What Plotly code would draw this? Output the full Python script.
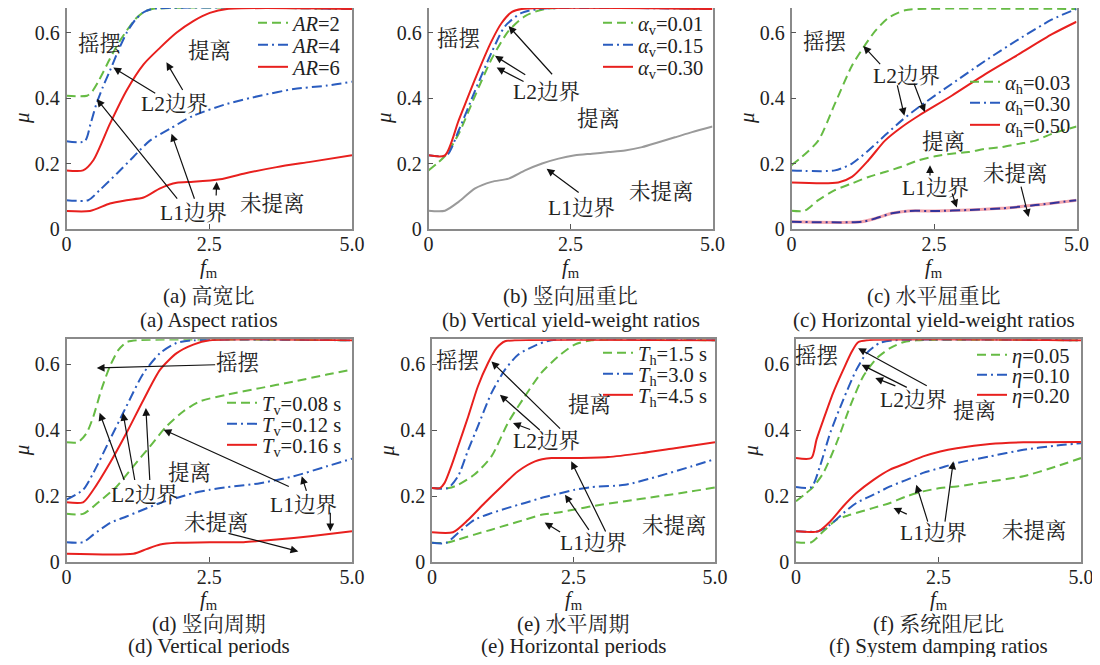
import plotly.graph_objects as go

# The page has an 8 px body margin, so the figure is made 16 px smaller than the
# 1100x665 window and every position below is given in window pixels.
PAGE_W, PAGE_H = 1100, 665
OFF = 8
FW, FH = PAGE_W - 2 * OFF, PAGE_H - 2 * OFF
SERIF = "Liberation Serif, Noto Serif CJK SC, Noto Sans CJK SC, serif"
GREEN = "#66bb44"
BLUE = "#2a5cbf"
RED = "#e8201e"
GRAY = "#9a9a9a"

# ---------------- data ----------------
# (a) aspect ratios
a_ar2_x = [0, 0.36, 0.45, 0.55, 0.64, 0.76, 0.9, 1.05, 1.2, 1.35, 1.5, 5.0]
a_ar2_y = [0.407, 0.407, 0.42, 0.448, 0.478, 0.52, 0.565, 0.605, 0.64, 0.662, 0.672, 0.672]
a_ar4_l2_x = [0, 0.32, 0.42, 0.52, 0.64, 0.76, 0.9, 1.05, 1.2, 1.35, 1.5, 5.0]
a_ar4_l2_y = [0.268, 0.268, 0.32, 0.38, 0.435, 0.483, 0.542, 0.598, 0.638, 0.662, 0.672, 0.672]
a_ar6_l2_x = [0, 0.29, 0.47, 0.76, 1.05, 1.35, 1.64, 1.93, 2.22, 2.51, 2.81, 5.0]
a_ar6_l2_y = [0.179, 0.179, 0.21, 0.321, 0.4225, 0.503, 0.554, 0.60, 0.635, 0.66, 0.672, 0.672]
a_ar4_l1_x = [0, 0.38, 0.58, 0.88, 1.17, 1.46, 1.81, 2.22, 2.81, 3.39, 3.98, 4.56, 5.0]
a_ar4_l1_y = [0.088, 0.088, 0.1185, 0.169, 0.22, 0.27, 0.306, 0.346, 0.382, 0.407, 0.4275, 0.438, 0.45]
a_ar6_l1_x = [0, 0.41, 0.76, 1.05, 1.35, 1.64, 1.93, 2.22, 2.69, 3.10, 3.68, 4.27, 5.0]
a_ar6_l1_y = [0.055, 0.055, 0.078, 0.088, 0.096, 0.124, 0.141, 0.144, 0.152, 0.169, 0.189, 0.205, 0.225]

# (b) vertical yield-weight ratios
b_av001_x = [0, 0.15, 0.3, 0.53, 0.82, 1.11, 1.41, 1.70, 2.05, 5.0]
b_av001_y = [0.179, 0.2, 0.225, 0.29, 0.407, 0.519, 0.605, 0.65, 0.672, 0.672]
b_av015_x = [0, 0.32, 0.53, 0.82, 1.11, 1.35, 1.64, 1.94, 5.0]
b_av015_y = [0.225, 0.225, 0.30, 0.4225, 0.539, 0.62, 0.66, 0.672, 0.672]
b_av030_x = [0, 0.29, 0.53, 0.82, 1.11, 1.29, 1.47, 1.64, 5.0]
b_av030_y = [0.225, 0.225, 0.331, 0.458, 0.574, 0.63, 0.663, 0.672, 0.672]
b_l1_x = [0, 0.29, 0.53, 0.82, 1.11, 1.41, 1.70, 2.0, 2.29, 2.58, 2.88, 3.17, 3.46, 3.76, 4.05, 4.34, 4.64, 5.0]
b_l1_y = [0.056, 0.056, 0.083, 0.124, 0.144, 0.154, 0.179, 0.20, 0.215, 0.225, 0.23, 0.235, 0.24, 0.25, 0.265, 0.28, 0.296, 0.313]

# (c) horizontal yield-weight ratios
c_ah003_l2_x = [0, 0.18, 0.47, 0.76, 1.06, 1.26, 1.47, 1.70, 1.99, 2.23, 5.0]
c_ah003_l2_y = [0.195, 0.22, 0.27, 0.382, 0.4985, 0.554, 0.605, 0.645, 0.668, 0.672, 0.672]
c_ah003_l1_x = [0, 0.23, 0.47, 0.76, 1.06, 1.35, 1.64, 1.93, 2.23, 2.52, 2.81, 3.11, 3.4, 3.69, 3.99, 4.28, 4.57, 5.0]
c_ah003_l1_y = [0.056, 0.056, 0.088, 0.1185, 0.139, 0.159, 0.174, 0.19, 0.21, 0.222, 0.23, 0.235, 0.245, 0.25, 0.26, 0.27, 0.291, 0.313]
c_ah030_l2_x = [0, 0.76, 1.06, 1.35, 1.64, 1.93, 2.23, 2.81, 3.40, 3.99, 4.57, 5.0]
c_ah030_l2_y = [0.179, 0.179, 0.20, 0.24, 0.286, 0.331, 0.372, 0.443, 0.514, 0.58, 0.64, 0.672]
c_ah050_l2_x = [0, 0.82, 1.06, 1.35, 1.64, 1.93, 2.23, 2.81, 3.4, 3.99, 4.57, 5.0]
c_ah050_l2_y = [0.142, 0.142, 0.159, 0.21, 0.27, 0.311, 0.346, 0.407, 0.473, 0.534, 0.595, 0.633]
c_l1_x = [0, 1.23, 1.47, 1.76, 2.05, 2.52, 3.11, 3.69, 4.28, 5.0]
c_l1_y = [0.022, 0.022, 0.032, 0.048, 0.055, 0.055, 0.058, 0.063, 0.073, 0.088]

# (d) vertical periods
d_tv008_l2_x = [0, 0.2, 0.35, 0.47, 0.61, 0.76, 0.91, 1.05, 1.23, 5.0]
d_tv008_l2_y = [0.363, 0.363, 0.39, 0.441, 0.522, 0.593, 0.643, 0.666, 0.672, 0.672]
d_tv012_l2_x = [0, 0.29, 0.47, 0.76, 1.05, 1.35, 1.64, 1.93, 2.22, 5.0]
d_tv012_l2_y = [0.189, 0.219, 0.27, 0.371, 0.472, 0.573, 0.633, 0.664, 0.672, 0.672]
d_tv016_l2_x = [0, 0.29, 0.47, 0.76, 1.05, 1.35, 1.64, 1.93, 2.22, 2.51, 5.0]
d_tv016_l2_y = [0.181, 0.181, 0.219, 0.30, 0.391, 0.492, 0.583, 0.633, 0.659, 0.672, 0.672]
d_tv008_l1_x = [0, 0.29, 0.58, 0.88, 1.17, 1.46, 1.75, 2.05, 2.34, 2.81, 3.39, 3.98, 4.56, 5.0]
d_tv008_l1_y = [0.146, 0.146, 0.184, 0.229, 0.29, 0.35, 0.411, 0.457, 0.487, 0.507, 0.527, 0.547, 0.568, 0.583]
d_tv012_l1_x = [0, 0.29, 0.47, 0.76, 1.05, 1.35, 1.64, 1.93, 2.22, 2.51, 2.81, 3.39, 3.98, 4.56, 5.0]
d_tv012_l1_y = [0.06, 0.06, 0.083, 0.118, 0.138, 0.159, 0.179, 0.194, 0.209, 0.219, 0.227, 0.239, 0.26, 0.29, 0.313]
d_tv016_l1_x = [0, 1.17, 1.40, 1.64, 1.93, 2.51, 3.10, 3.68, 4.27, 5.0]
d_tv016_l1_y = [0.025, 0.025, 0.039, 0.053, 0.058, 0.06, 0.06, 0.068, 0.078, 0.093]

# (e) horizontal periods
e_th15_l2_x = [0, 0.3, 0.46, 0.75, 1.05, 1.34, 1.64, 1.93, 2.23, 2.52, 2.82, 5.0]
e_th15_l2_y = [0.224, 0.224, 0.234, 0.265, 0.32, 0.421, 0.502, 0.573, 0.623, 0.659, 0.672, 0.672]
e_th30_l2_x = [0, 0.28, 0.46, 0.64, 0.81, 1.05, 1.29, 1.52, 1.82, 2.11, 5.0]
e_th30_l2_y = [0.224, 0.224, 0.26, 0.34, 0.411, 0.512, 0.583, 0.628, 0.656, 0.672, 0.672]
e_th45_l2_x = [0, 0.14, 0.22, 0.34, 0.46, 0.64, 0.81, 0.99, 1.14, 1.29, 1.46, 5.0]
e_th45_l2_y = [0.224, 0.224, 0.239, 0.29, 0.35, 0.441, 0.532, 0.603, 0.648, 0.669, 0.672, 0.672]
e_th15_l1_x = [0, 0.25, 0.46, 0.75, 1.05, 1.34, 1.64, 1.93, 2.23, 2.52, 2.82, 3.41, 4.0, 4.59, 5.0]
e_th15_l1_y = [0.058, 0.058, 0.068, 0.083, 0.098, 0.113, 0.128, 0.143, 0.15, 0.159, 0.169, 0.184, 0.199, 0.214, 0.226]
e_th30_l1_x = [0, 0.25, 0.46, 0.75, 1.05, 1.34, 1.64, 1.93, 2.23, 2.52, 2.82, 3.41, 4.0, 4.59, 5.0]
e_th30_l1_y = [0.058, 0.058, 0.088, 0.128, 0.148, 0.164, 0.179, 0.194, 0.207, 0.219, 0.227, 0.234, 0.26, 0.29, 0.312]
e_th45_l1_x = [0, 0.37, 0.64, 0.93, 1.23, 1.52, 1.82, 2.11, 2.52, 3.11, 3.70, 4.29, 5.0]
e_th45_l1_y = [0.09, 0.09, 0.128, 0.179, 0.229, 0.275, 0.305, 0.315, 0.315, 0.318, 0.33, 0.345, 0.363]

# (f) system damping ratios
f_eta005_l2_x = [0, 0.15, 0.3, 0.48, 0.71, 0.95, 1.18, 1.42, 1.65, 1.88, 2.12, 5.0]
f_eta005_l2_y = [0.184, 0.205, 0.227, 0.27, 0.36, 0.472, 0.563, 0.618, 0.648, 0.666, 0.672, 0.672]
f_eta010_l2_x = [0, 0.27, 0.42, 0.60, 0.83, 1.06, 1.24, 1.47, 1.71, 5.0]
f_eta010_l2_y = [0.227, 0.227, 0.29, 0.391, 0.492, 0.583, 0.633, 0.664, 0.672, 0.672]
f_eta020_l2_x = [0, 0.27, 0.36, 0.48, 0.65, 0.83, 0.98, 1.09, 1.24, 5.0]
f_eta020_l2_y = [0.315, 0.315, 0.371, 0.431, 0.512, 0.583, 0.638, 0.666, 0.672, 0.672]
f_eta005_l1_x = [0, 0.27, 0.48, 0.71, 0.95, 1.36, 1.65, 1.94, 2.23, 2.53, 2.82, 3.40, 3.99, 4.57, 5.0]
f_eta005_l1_y = [0.06, 0.06, 0.093, 0.128, 0.143, 0.164, 0.179, 0.199, 0.214, 0.224, 0.229, 0.244, 0.26, 0.29, 0.315]
f_eta010_l1_x = [0, 0.39, 0.60, 0.83, 1.06, 1.36, 1.65, 1.94, 2.23, 2.53, 2.82, 3.40, 3.99, 4.57, 5.0]
f_eta010_l1_y = [0.093, 0.093, 0.113, 0.148, 0.179, 0.204, 0.229, 0.249, 0.27, 0.285, 0.30, 0.32, 0.34, 0.353, 0.36]
f_eta020_l1_x = [0, 0.39, 0.60, 0.83, 1.06, 1.36, 1.65, 1.94, 2.23, 2.53, 2.82, 3.40, 3.99, 5.0]
f_eta020_l1_y = [0.093, 0.093, 0.123, 0.169, 0.209, 0.249, 0.28, 0.30, 0.32, 0.335, 0.345, 0.358, 0.363, 0.364]

x_tick_vals = [0, 2.5, 5.0]
x_tick_text = ["0", "2.5", "5.0"]
y_tick_vals = [0, 0.2, 0.4, 0.6]
y_tick_text = ["0", "0.2", "0.4", "0.6"]

captions_cn = ["(a) 高宽比", "(b) 竖向屈重比", "(c) 水平屈重比", "(d) 竖向周期", "(e) 水平周期", "(f) 系统阻尼比"]
captions_en = ["(a) Aspect ratios", "(b) Vertical yield-weight ratios", "(c) Horizontal yield-weight ratios",
               "(d) Vertical periods", "(e) Horizontal periods", "(f) System damping ratios"]

legend_a = ["<i>AR</i>=2", "<i>AR</i>=4", "<i>AR</i>=6"]
legend_b = ["<i>α</i><sub>v</sub>=0.01", "<i>α</i><sub>v</sub>=0.15", "<i>α</i><sub>v</sub>=0.30"]
legend_c = ["<i>α</i><sub>h</sub>=0.03", "<i>α</i><sub>h</sub>=0.30", "<i>α</i><sub>h</sub>=0.50"]
legend_d = ["<i>T</i><sub>v</sub>=0.08 s", "<i>T</i><sub>v</sub>=0.12 s", "<i>T</i><sub>v</sub>=0.16 s"]
legend_e = ["<i>T</i><sub>h</sub>=1.5 s", "<i>T</i><sub>h</sub>=3.0 s", "<i>T</i><sub>h</sub>=4.5 s"]
legend_f = ["<i>η</i>=0.05", "<i>η</i>=0.10", "<i>η</i>=0.20"]

# ---------------- layout geometry (window pixels) ----------------
dom_px = [  # x0, x1, ytop, ybottom
    (66.5, 352, 8, 229), (428.5, 712.5, 8, 229), (791.5, 1076.5, 8, 229),
    (66.5, 352, 339.3, 562), (432, 715, 339.3, 562), (796, 1081, 339.3, 562),
]
# (f_m label, caption line 1, caption line 2) offsets below each row's x axis
row_text_off = {229: (39, 67, 91), 562: (38, 62, 84)}
# legend box left edge and the centre of each of its three rows
legend_pos = [(253, (23, 45, 67)), (598, (23, 45, 67)), (965, (82, 103, 125)),
              (222, (403, 424, 445)), (598, (353, 374, 395)), (972, (355, 375, 395))]


def fx(px):
    return (px - OFF) / FW


def fy(py):
    return 1 - (py - OFF) / FH


STY = {
    "g": dict(color=GREEN, dash="9px,5px", width=2),
    "b": dict(color=BLUE, dash="10px,4px,2px,4px", width=2),
    "r": dict(color=RED, dash="solid", width=2),
    "k": dict(color=GRAY, dash="solid", width=2),
    "p": dict(color="#f3a3ab", dash="solid", width=3),
    "n": dict(color="#33339a", dash="10px,4px,2px,4px", width=2),
}

fig = go.Figure()
legend_counter = [0]
legend_specs = []


def ax_id(i, kind):
    return kind if i == 1 else f"{kind}{i}"


def add(i, x, y, sty, name=None, row=None):
    kw = {}
    if name is not None:
        legend_counter[0] += 1
        k = legend_counter[0]
        lid = "legend" if k == 1 else f"legend{k}"
        kw["legend"] = lid
        legend_specs.append((lid, i, row))
    fig.add_trace(go.Scatter(
        x=x, y=y, mode="lines", line=dict(shape="spline", smoothing=0.7, **STY[sty]),
        xaxis=ax_id(i, "x"), yaxis=ax_id(i, "y"),
        name=name if name else "", showlegend=name is not None, hoverinfo="skip", **kw))


# panel a
add(1, a_ar2_x, a_ar2_y, "g", legend_a[0], 0)
add(1, a_ar4_l2_x, a_ar4_l2_y, "b", legend_a[1], 1)
add(1, a_ar6_l2_x, a_ar6_l2_y, "r", legend_a[2], 2)
add(1, a_ar4_l1_x, a_ar4_l1_y, "b")
add(1, a_ar6_l1_x, a_ar6_l1_y, "r")
# panel b
add(2, b_av001_x, b_av001_y, "g", legend_b[0], 0)
add(2, b_av015_x, b_av015_y, "b", legend_b[1], 1)
add(2, b_av030_x, b_av030_y, "r", legend_b[2], 2)
add(2, b_l1_x, b_l1_y, "k")
# panel c
add(3, c_ah003_l2_x, c_ah003_l2_y, "g", legend_c[0], 0)
add(3, c_ah030_l2_x, c_ah030_l2_y, "b", legend_c[1], 1)
add(3, c_ah050_l2_x, c_ah050_l2_y, "r", legend_c[2], 2)
add(3, c_ah003_l1_x, c_ah003_l1_y, "g")
add(3, c_l1_x, c_l1_y, "p")
add(3, c_l1_x, c_l1_y, "n")
# panel d
add(4, d_tv008_l2_x, d_tv008_l2_y, "g", legend_d[0], 0)
add(4, d_tv012_l2_x, d_tv012_l2_y, "b", legend_d[1], 1)
add(4, d_tv016_l2_x, d_tv016_l2_y, "r", legend_d[2], 2)
add(4, d_tv008_l1_x, d_tv008_l1_y, "g")
add(4, d_tv012_l1_x, d_tv012_l1_y, "b")
add(4, d_tv016_l1_x, d_tv016_l1_y, "r")
# panel e
add(5, e_th15_l2_x, e_th15_l2_y, "g", legend_e[0], 0)
add(5, e_th30_l2_x, e_th30_l2_y, "b", legend_e[1], 1)
add(5, e_th45_l2_x, e_th45_l2_y, "r", legend_e[2], 2)
add(5, e_th15_l1_x, e_th15_l1_y, "g")
add(5, e_th30_l1_x, e_th30_l1_y, "b")
add(5, e_th45_l1_x, e_th45_l1_y, "r")
# panel f
add(6, f_eta005_l2_x, f_eta005_l2_y, "g", legend_f[0], 0)
add(6, f_eta010_l2_x, f_eta010_l2_y, "b", legend_f[1], 1)
add(6, f_eta020_l2_x, f_eta020_l2_y, "r", legend_f[2], 2)
add(6, f_eta005_l1_x, f_eta005_l1_y, "g")
add(6, f_eta010_l1_x, f_eta010_l1_y, "b")
add(6, f_eta020_l1_x, f_eta020_l1_y, "r")

# axes
lay = {}
for i, (x0, x1, yt, yb) in enumerate(dom_px, start=1):
    common = dict(ticks="inside", ticklen=5, tickwidth=1, tickcolor="#555",
                  showline=True, linecolor="#8a8a8a", linewidth=1.5, mirror=True,
                  showgrid=False, zeroline=False, fixedrange=True, automargin=False,
                  ticklabeloverflow="allow",
                  tickfont=dict(family=SERIF, size=20, color="#222"))
    lay["xaxis" if i == 1 else f"xaxis{i}"] = dict(
        domain=[fx(x0), fx(x1)], anchor=ax_id(i, "y"), range=[0, 5],
        tickvals=x_tick_vals, ticktext=x_tick_text, ticklabelstandoff=-4, **common)
    lay["yaxis" if i == 1 else f"yaxis{i}"] = dict(
        domain=[fy(yb), min(1.0, fy(yt))], anchor=ax_id(i, "x"), range=[0, 0.675],
        tickvals=y_tick_vals, ticktext=y_tick_text, ticklabelstandoff=1, **common)

# one single-entry legend per series, so the row spacing follows the reference
for lid, panel, row in legend_specs:
    lx, rows = legend_pos[panel - 1]
    lay[lid] = dict(x=fx(lx), y=fy(rows[row]), xanchor="left", yanchor="middle",
                    bgcolor="rgba(0,0,0,0)", borderwidth=0,
                    font=dict(family=SERIF, size=20.5, color="#222"))

annotations = []

# region labels: (panel, text, x, y)
labels = [
    (1, "摇摆", 0.58, 0.564), (1, "提离", 2.51, 0.544), (1, "L2边界", 1.90, 0.382),
    (1, "L1边界", 2.22, 0.048), (1, "未提离", 3.60, 0.076),
    (2, "摇摆", 0.53, 0.58), (2, "提离", 2.99, 0.336), (2, "未提离", 4.11, 0.113),
    (2, "L2边界", 2.08, 0.417), (2, "L1边界", 2.70, 0.063),
    (3, "摇摆", 0.59, 0.57), (3, "L2边界", 2.02, 0.468), (3, "提离", 2.67, 0.265),
    (3, "L1边界", 2.52, 0.124), (3, "未提离", 3.93, 0.169),
    (4, "摇摆", 3.01, 0.603), (4, "提离", 2.16, 0.27), (4, "L2边界", 1.37, 0.204),
    (4, "L1边界", 4.15, 0.174), (4, "未提离", 2.63, 0.118),
    (5, "摇摆", 0.46, 0.608), (5, "提离", 2.79, 0.477), (5, "L2边界", 2.02, 0.366),
    (5, "L1边界", 2.85, 0.058), (5, "未提离", 4.29, 0.108),
    (6, "摇摆", 0.36, 0.623), (6, "L2边界", 2.06, 0.492), (6, "提离", 3.14, 0.457),
    (6, "L1边界", 2.41, 0.088), (6, "未提离", 4.19, 0.093),
]
for p, t, x, y in labels:
    annotations.append(dict(text=t, x=x, y=y, xref=ax_id(p, "x"), yref=ax_id(p, "y"),
                            xanchor="center", yanchor="middle", showarrow=False,
                            font=dict(family=SERIF, size=21.5, color="#222")))

# arrows: (panel, tail_x, tail_y, tip_x, tip_y)
arrows = [
    (1, 1.58, 0.412, 0.82, 0.493), (1, 2.05, 0.42, 1.75, 0.509),
    (1, 1.96, 0.088, 0.53, 0.397), (1, 2.25, 0.088, 1.84, 0.291), (1, 2.62, 0.098, 2.63, 0.144),
    (2, 1.73, 0.468, 1.17, 0.529), (2, 1.70, 0.448, 1.20, 0.493), (2, 2.20, 0.468, 1.41, 0.62),
    (2, 2.67, 0.108, 2.08, 0.184),
    (3, 1.58, 0.499, 1.26, 0.559), (3, 1.85, 0.443, 1.98, 0.346), (3, 2.14, 0.448, 2.34, 0.357),
    (3, 2.43, 0.159, 2.43, 0.195), (3, 2.81, 0.113, 2.90, 0.066), (3, 4.02, 0.134, 4.16, 0.037),
    (4, 2.63, 0.598, 0.53, 0.588), (4, 1.02, 0.244, 0.58, 0.452), (4, 1.20, 0.244, 0.99, 0.452),
    (4, 1.46, 0.244, 1.39, 0.467), (4, 3.92, 0.227, 1.70, 0.401), (4, 4.21, 0.211, 4.12, 0.26),
    (4, 4.62, 0.154, 4.62, 0.093), (4, 2.81, 0.088, 4.06, 0.032),
    (5, 2.29, 0.40, 1.05, 0.608), (5, 1.93, 0.396, 1.20, 0.507), (5, 1.76, 0.40, 1.43, 0.421),
    (5, 2.29, 0.088, 1.99, 0.12), (5, 2.79, 0.093, 2.35, 0.204), (5, 3.08, 0.088, 2.46, 0.305),
    (6, 2.32, 0.532, 1.09, 0.648), (6, 1.97, 0.527, 1.15, 0.598), (6, 1.77, 0.532, 1.39, 0.558),
    (6, 1.97, 0.143, 1.71, 0.164), (6, 2.32, 0.118, 2.11, 0.234), (6, 2.61, 0.118, 2.76, 0.305),
]
for p, tx, ty, hx, hy in arrows:
    annotations.append(dict(text="", x=hx, y=hy, ax=tx, ay=ty,
                            xref=ax_id(p, "x"), yref=ax_id(p, "y"),
                            axref=ax_id(p, "x"), ayref=ax_id(p, "y"),
                            showarrow=True, arrowhead=2, arrowsize=1.3, arrowwidth=1.2,
                            arrowcolor="#111", standoff=0, startstandoff=0))

# axis titles and captions
for i, (x0, x1, yt, yb) in enumerate(dom_px, start=1):
    cx = (x0 + x1) / 2
    o_f, o_c1, o_c2 = row_text_off[yb]
    base = dict(xref="paper", yref="paper", showarrow=False, xanchor="center", yanchor="middle")
    annotations.append(dict(text="<i>f</i><sub>m</sub>", x=fx(cx), y=fy(yb + o_f),
                            font=dict(family=SERIF, size=21, color="#222"), **base))
    annotations.append(dict(text="<i>μ</i>", x=fx(x0 - 45), y=fy((yt + yb) / 2),
                            textangle=-90, font=dict(family=SERIF, size=21, color="#222"), **base))
    annotations.append(dict(text=captions_cn[i - 1], x=fx(cx), y=fy(yb + o_c1),
                            font=dict(family=SERIF, size=21, color="#222"), **base))
    annotations.append(dict(text=captions_en[i - 1], x=fx(cx), y=fy(yb + o_c2),
                            font=dict(family=SERIF, size=21, color="#222"), **base))

fig.update_layout(
    width=FW, height=FH, margin=dict(l=0, r=0, t=0, b=0, autoexpand=False),
    paper_bgcolor="white", plot_bgcolor="white",
    annotations=annotations, **lay)

fig.write_html("out.html")
